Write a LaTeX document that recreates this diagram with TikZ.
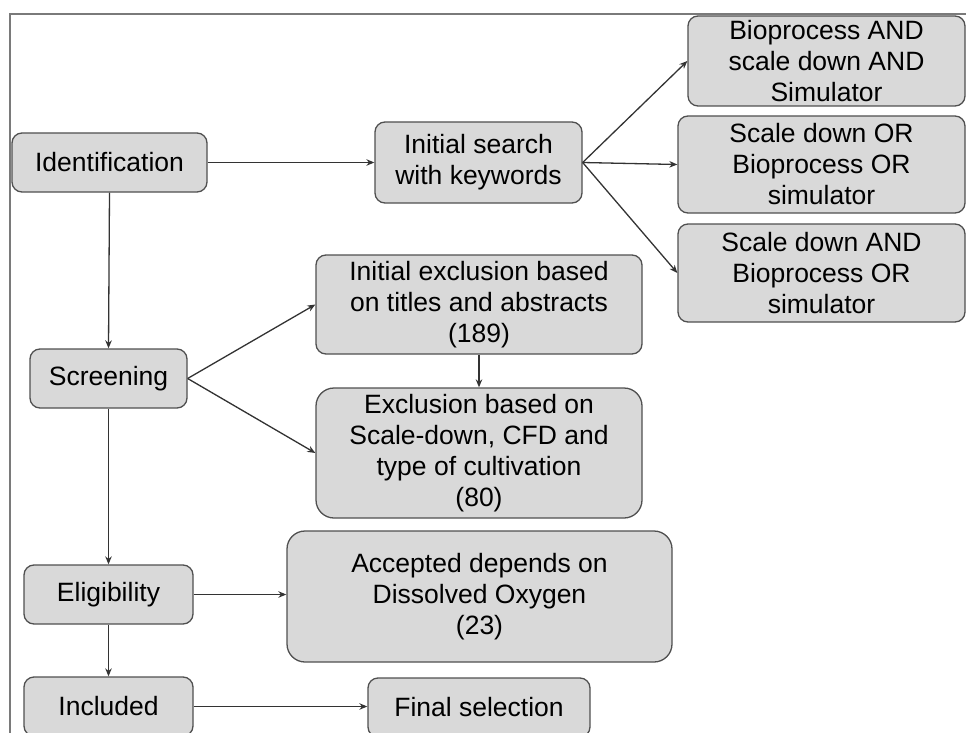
\documentclass[tikz,border=0pt]{standalone}
\usepackage{fontspec}
\setmainfont{Liberation Sans}
\usetikzlibrary{arrows.meta}
\definecolor{boxfill}{HTML}{D9D9D9}
\definecolor{boxline}{HTML}{505050}
\definecolor{arrowc}{HTML}{333333}
\definecolor{framec}{HTML}{7A7A7A}
\begin{document}
\begin{tikzpicture}[x=1pt,y=-1pt,
  box/.style={draw=boxline, fill=boxfill, line width=1.3pt, rounded corners=10pt,
    align=center, font=\fontsize{26.5}{31}\selectfont, inner sep=0pt},
  bigbox/.style={box, rounded corners=18pt},
  arr/.style={draw=arrowc, line width=1.3pt, -{Stealth[length=8pt,width=6.5pt]}}]
\useasboundingbox (0,0) rectangle (966,733);
\clip (0,0) rectangle (966,733);
\draw[framec, line width=1.6pt] (10,733) -- (10,14) -- (970,14);

\node[box, minimum width=195pt, minimum height=59pt] (ident) at (109.5,162.5) {Identification};
\node[box, minimum width=207pt, minimum height=81pt] (search) at (478.5,162.5) {Initial search\\with keywords};
\node[box, minimum width=277pt, minimum height=90pt] (b1) at (826.5,61) {Bioprocess AND\\scale down AND\\Simulator};
\node[box, minimum width=287pt, minimum height=97pt] (b2) at (821.5,164.5) {Scale down OR\\Bioprocess OR\\simulator};
\node[box, minimum width=287pt, minimum height=98pt] (b3) at (821.5,273) {Scale down AND\\Bioprocess OR\\simulator};
\node[box, minimum width=157pt, minimum height=59pt] (screen) at (108.5,378.5) {Screening};
\node[box, minimum width=326pt, minimum height=99pt] (iex) at (479,304.5) {Initial exclusion based\\on titles and abstracts\\(189)};
\node[bigbox, minimum width=326pt, minimum height=130pt] (ex) at (479,453) {Exclusion based on\\Scale-down, CFD and\\type of cultivation\\(80)};
\node[box, minimum width=169pt, minimum height=59pt] (elig) at (108.5,594.5) {Eligibility};
\node[bigbox, minimum width=385pt, minimum height=131pt] (acc) at (479.5,596.5) {Accepted depends on\\Dissolved Oxygen\\(23)};
\node[box, minimum width=169pt, minimum height=59pt] (incl) at (108.5,706.5) {Included};
\node[box, minimum width=222pt, minimum height=59pt] (final) at (479,707.5) {Final selection};

\draw[arr] (ident.east) -- (search.west);
\draw[arr] (search.east) -- (b1.west);
\draw[arr] (search.east) -- (b2.west);
\draw[arr] (search.east) -- (b3.west);
\draw[arr] (ident.south) -- (screen.north);
\draw[arr] (screen.east) -- (iex.west);
\draw[arr] (screen.east) -- (ex.west);
\draw[arr] (iex.south) -- (ex.north);
\draw[arr] (screen.south) -- (elig.north);
\draw[arr] (elig.east) -- (elig.east -| acc.west);
\draw[arr] (elig.south) -- (incl.north);
\draw[arr] (incl.east) -- (incl.east -| final.west);
\end{tikzpicture}
\end{document}
